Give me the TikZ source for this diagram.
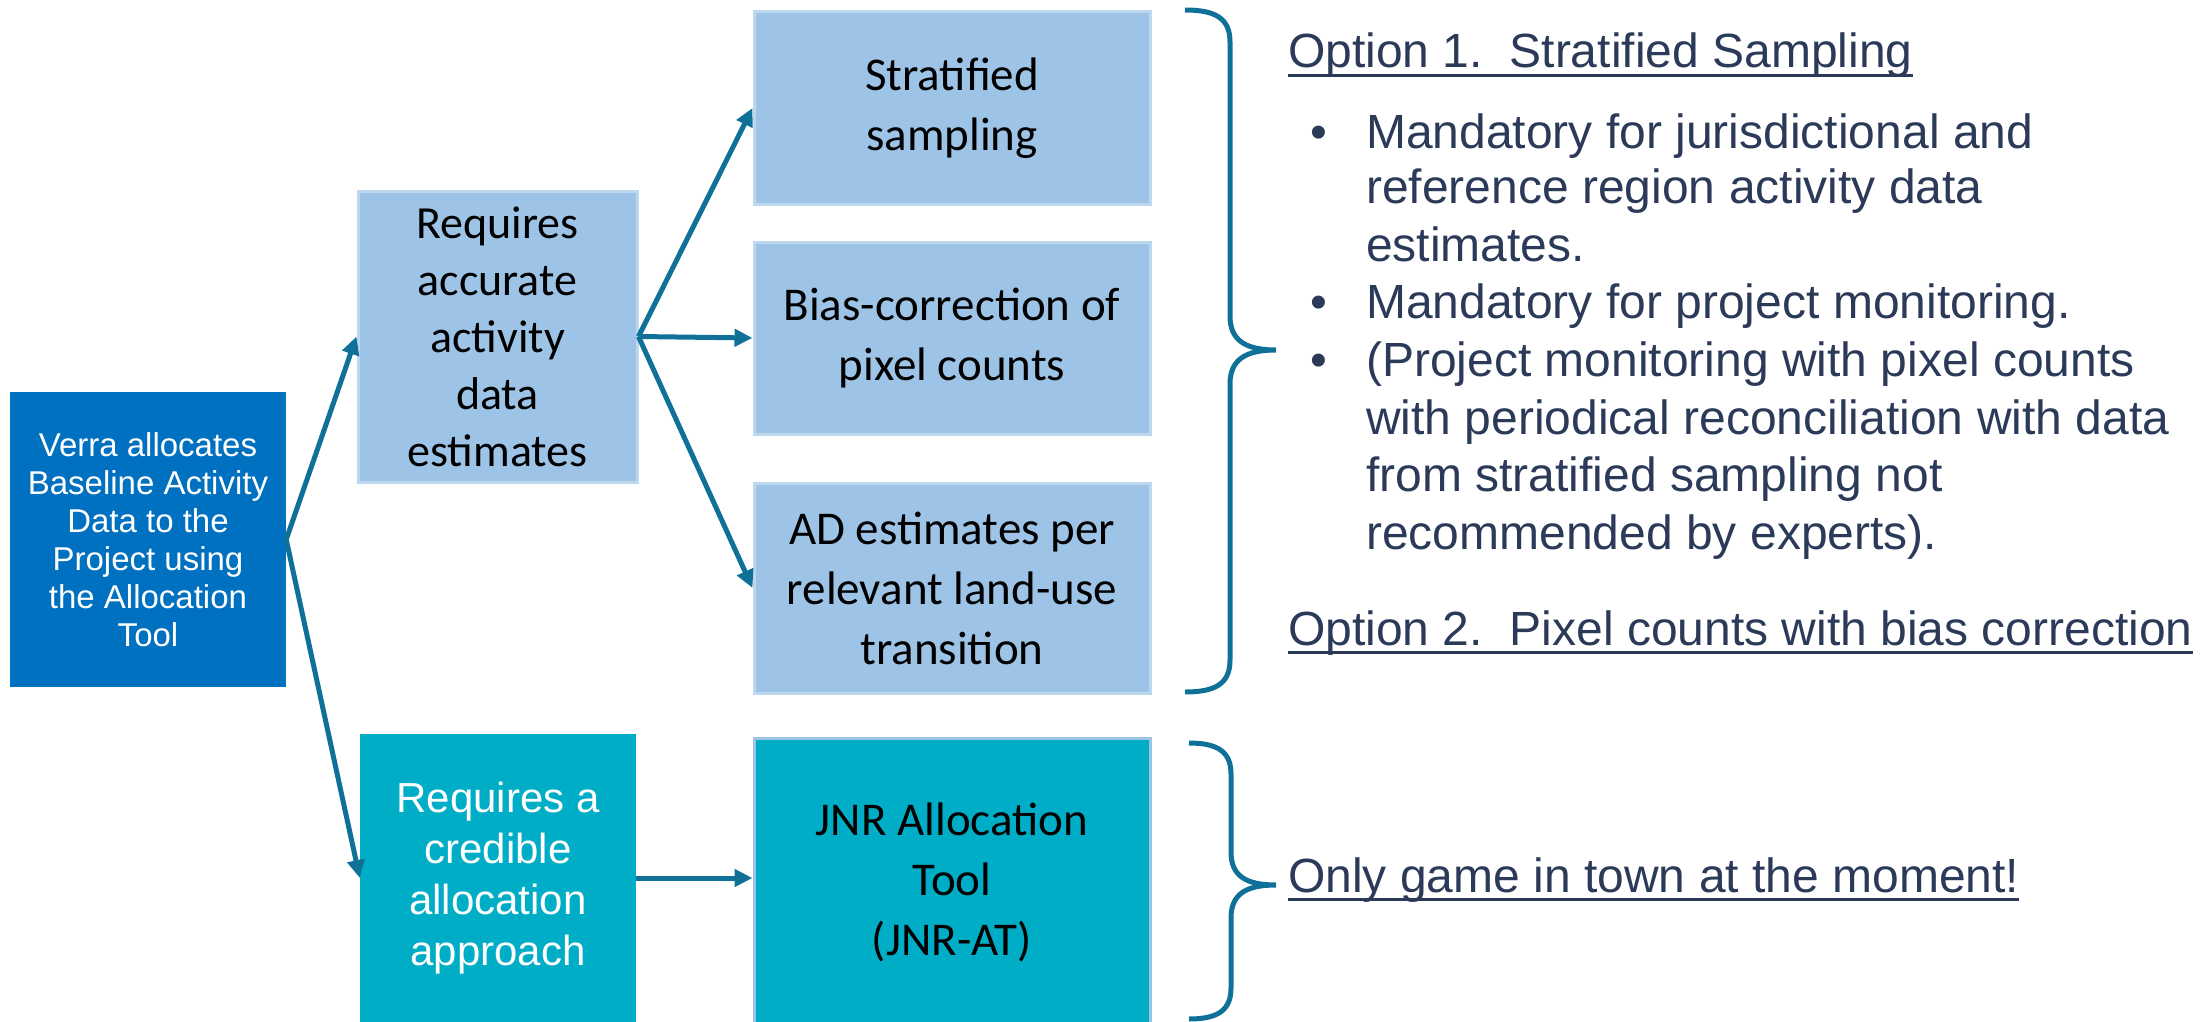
\documentclass[tikz,border=0pt]{standalone}
\usepackage{fontspec}
\setmainfont{Liberation Sans}
\newfontfamily\calibfont{Carlito}
\usetikzlibrary{arrows.meta}

\definecolor{verrablue}{RGB}{0,112,192}
\definecolor{paleblue}{RGB}{157,195,230}
\definecolor{paleedge}{RGB}{189,215,238}
\definecolor{tealbox}{RGB}{0,173,198}
\definecolor{arrowteal}{RGB}{16,113,152}
\definecolor{notenavy}{RGB}{44,58,89}

% underline sitting through the descenders
\newcommand{\optline}[1]{\setbox0\hbox{#1}\rlap{\rule[-0.19em]{\wd0}{0.06em}}\box0}

\begin{document}
\begin{tikzpicture}[x=1pt,y=1pt,yscale=-1,
  box/.style={inner sep=0pt, align=center},
  palebox/.style={box, fill=paleblue, draw=paleedge, line width=3pt, text=black,
    font=\calibfont\fontsize{47}{60}\selectfont},
  flow/.style={draw=arrowteal, line width=5pt, -{Triangle[length=18pt,width=17pt]}},
  brace/.style={draw=arrowteal, line width=5pt},
  note/.style={inner sep=0pt, text=notenavy, font=\fontsize{48}{58}\selectfont}]
\useasboundingbox (0,0) rectangle (2205,1022);

% Boxes
\node[box, fill=verrablue, text=white, minimum width=276pt, minimum height=295pt,
  font=\fontsize{33}{38}\selectfont] (verra) at (148,539.5)
  {Verra allocates\\Baseline Activity\\Data to the\\Project using\\the Allocation\\Tool};
\node[palebox, minimum width=279pt, minimum height=291pt,
  font=\calibfont\fontsize{46}{57}\selectfont] (acc) at (497.5,336.5)
  {Requires\\accurate\\activity\\data\\estimates};
\node[box, fill=tealbox, text=white, minimum width=276pt, minimum height=288pt,
  font=\fontsize{42}{51}\selectfont] (cred) at (498,878)
  {Requires a\\credible\\allocation\\approach};
\node[palebox, minimum width=396pt, minimum height=192pt] (strat) at (952,108)
  {Stratified\\sampling};
\node[palebox, minimum width=396pt, minimum height=192pt] (bias) at (952,338)
  {Bias-correction of\\pixel counts};
\node[palebox, minimum width=396pt, minimum height=210pt] (adest) at (952,588)
  {AD estimates per\\relevant land-use\\transition};
\node[palebox, fill=tealbox, draw=paleblue, minimum width=396pt, minimum height=287pt] (jnr) at (952,882)
  {JNR Allocation\\Tool\\(JNR-AT)};

% Arrows
\draw[flow] (verra.east) -- (acc.west);
\draw[flow] (verra.east) -- (cred.west);
\draw[flow] (acc.east) -- (strat.west);
\draw[flow] (acc.east) -- (bias.west);
\draw[flow] (acc.east) -- (adest.west);
\draw[flow] (cred.east) -- (jnr.west |- cred.east);

% Braces
\draw[brace] (1185,10) .. controls (1215,10) and (1230,18) .. (1230,42) -- (1230,316)
  .. controls (1230,340) and (1245,350) .. (1276,350)
  .. controls (1245,350) and (1230,360) .. (1230,384) -- (1230,660)
  .. controls (1230,684) and (1215,692) .. (1185,692);
\draw[brace] (1189,743) .. controls (1218,743) and (1231,752) .. (1231,774) -- (1231,852)
  .. controls (1231,876) and (1246,885) .. (1276,885)
  .. controls (1246,885) and (1231,894) .. (1231,918) -- (1231,988)
  .. controls (1231,1010) and (1218,1019) .. (1189,1019);

% Notes
\node[note, anchor=base west] (opt1) at (1288,68) {\optline{Option 1.\ \ Stratified Sampling}};
\foreach \yy [count=\i] in {148,318,376}
  \node[note, anchor=base west] (dot\i) at (1310,\yy) {\textbullet};
\foreach \yy/\txt [count=\i] in {148/Mandatory for jurisdictional and,
  203/reference region activity data, 261/estimates.,
  318/Mandatory for project monitoring.,
  376/(Project monitoring with pixel counts,
  434/with periodical reconciliation with data,
  491/from stratified sampling not,
  549/recommended by experts).}
  \node[note, anchor=base west] (line\i) at (1366,\yy) {\txt};
\node[note, anchor=base west] (opt2) at (1288,645) {\optline{Option 2.\ \ Pixel counts with bias correction}};
\node[note, anchor=base west] (only) at (1288,892) {\optline{Only game in town at the moment!}};

\end{tikzpicture}
\end{document}
